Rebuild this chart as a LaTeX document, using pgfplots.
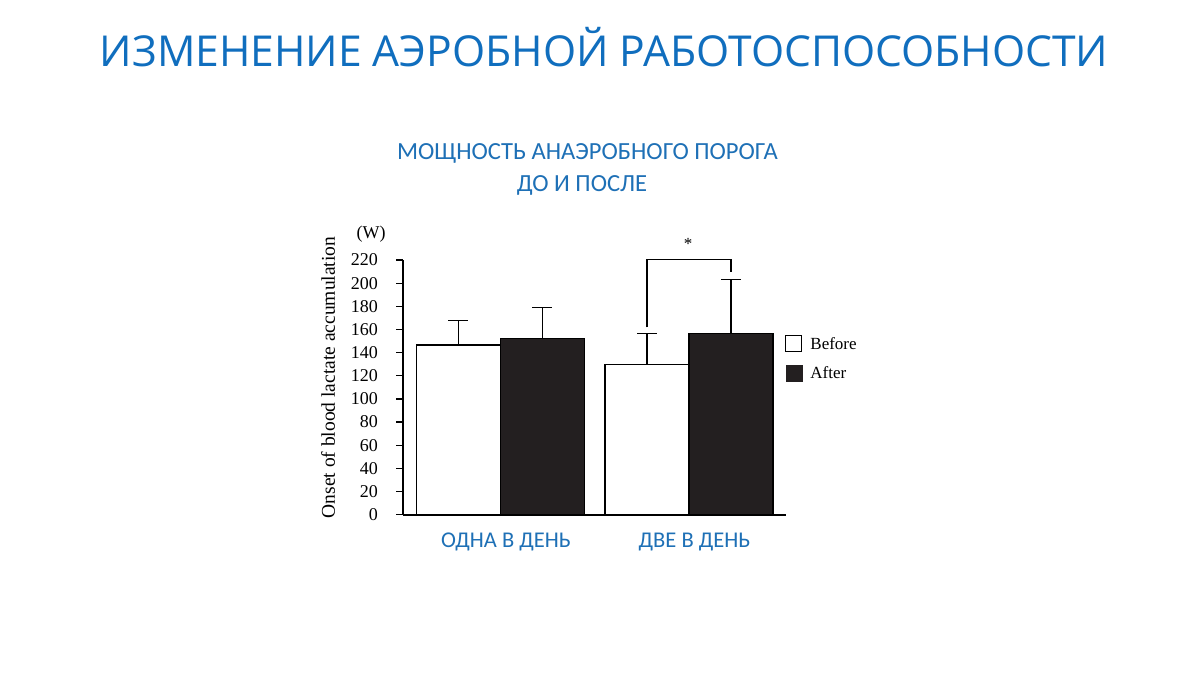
\documentclass[border=0pt]{standalone}
\usepackage{fontspec}
\setmainfont{Liberation Serif}
\newfontfamily\titlefont{Open Sans}
\newfontfamily\calfont{Carlito}
\usepackage{pgfplots}
\pgfplotsset{compat=1.18}
\definecolor{titleblue}{RGB}{16,110,190}
\definecolor{subblue}{RGB}{30,112,182}
\definecolor{barblack}{RGB}{35,31,32}

\begin{document}
\begin{tikzpicture}[x=1pt,y=1pt]
\fill[white] (0,0) rectangle (1200,675);
% slide titles
\node[font=\titlefont\fontsize{42.6}{49}\selectfont, text=titleblue, anchor=base] at (604,608) {ИЗМЕНЕНИЕ АЭРОБНОЙ РАБОТОСПОСОБНОСТИ};
\node[font=\calfont\fontsize{24.6}{29}\selectfont, text=subblue, anchor=base] at (587.5,515) {МОЩНОСТЬ АНАЭРОБНОГО ПОРОГА};
\node[font=\calfont\fontsize{24.6}{29}\selectfont, text=subblue, anchor=base] at (582,483) {ДО И ПОСЛЕ};

\begin{axis}[
    at={(403pt,160.3pt)}, anchor=south west,
    scale only axis, width=383pt, height=254.7pt,
    xmin=-0.5172, xmax=1.5146,
    ymin=0, ymax=220,
    clip=false,
    axis lines=left,
    axis line style={-, line width=1.8pt, black},
    xtick={0,1},
    xticklabels={ОДНА В ДЕНЬ, ДВЕ В ДЕНЬ},
    x tick style={draw=none},
    xticklabel style={font=\calfont\fontsize{22.5}{26}\selectfont, text=subblue, anchor=base, yshift=-26pt, xshift=5.5pt},
    ytick={0,20,...,220},
    tick align=outside,
    major tick length=7pt,
    y tick style={line width=1.2pt, black},
    yticklabel style={font=\fontsize{18}{21}\selectfont, anchor=east, inner sep=0pt, xshift=-18pt},
    /pgf/number format/assume math mode=true,
    legend style={at={(0.9974,0.706)}, anchor=north west, draw=none, fill=none,
        font=\fontsize{17}{20}\selectfont, inner sep=0pt, row sep=12pt,
        /tikz/every even column/.append style={column sep=0pt}},
    legend cell align=left,
]
\addplot[ybar, bar width=0.4456, bar shift=0, fill=white, draw=black, line width=1.4pt, forget plot,
    error bars/.cd, y dir=plus, y explicit,
    error bar style={line width=1.2pt, black},
    error mark options={rotate=90, mark size=10pt, line width=1.2pt, black}]
    coordinates {(-0.2228,146.7) +- (0,21.1) (0.7772,129.7) +- (0,26.6)};
\addplot[ybar, bar width=0.4456, bar shift=0, fill=barblack, draw=black, line width=1.4pt, forget plot,
    error bars/.cd, y dir=plus, y explicit,
    error bar style={line width=1.2pt, black},
    error mark options={rotate=90, mark size=10pt, line width=1.2pt, black}]
    coordinates {(0.2228,152.2) +- (0,26.6) (1.2228,156.3) +- (0,46.7)};
% significance bracket
\addplot[black, line width=1.2pt, sharp plot, mark=none, forget plot]
    coordinates {(0.7772,161.7) (0.7772,220.4) (1.2228,220.4) (1.2228,209.6)};
\node[anchor=base, font=\fontsize{17}{20}\selectfont] at (axis cs:0.995,229.2) {*};

\addlegendimage{legend image code/.code={\draw[black, fill=white, line width=1.2pt] (0pt,-8pt) rectangle (16pt,8pt);}}
\addlegendentry{\hspace{6pt}Before}
\addlegendimage{legend image code/.code={\fill[barblack] (0pt,-8pt) rectangle (16pt,8pt);}}
\addlegendentry{\hspace{6pt}After}
\end{axis}

\node[rotate=90, font=\fontsize{19.5}{23}\selectfont] at (328,297.5) {Onset of blood lactate accumulation};
\node[font=\fontsize{18}{21}\selectfont] at (371,441) {(W)};
\end{tikzpicture}
\end{document}
